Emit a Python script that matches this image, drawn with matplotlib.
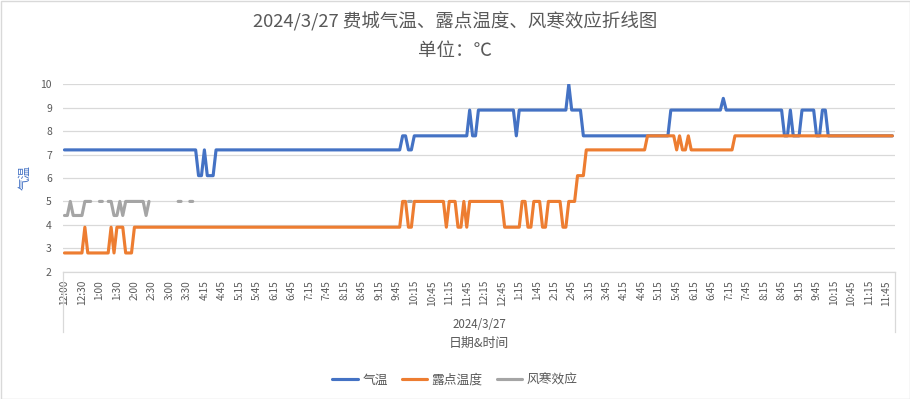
import numpy as np
import matplotlib
matplotlib.use("Agg")
import matplotlib.pyplot as plt
from matplotlib.lines import Line2D
from matplotlib.patches import Rectangle

plt.rcParams['font.family'] = ['Noto Sans CJK SC', 'DejaVu Sans']

# ---- data (value in degC, number of consecutive 5-min readings); None = no value
temp_runs = [(7.2, 46), (6.1, 2), (7.2, 1), (6.1, 3), (7.2, 64), (7.8, 2), (7.2, 2),
             (7.8, 19), (8.9, 1), (7.8, 2), (8.9, 13), (7.8, 1), (8.9, 17), (10.0, 1),
             (8.9, 4), (7.8, 30), (8.9, 18), (9.4, 1), (8.9, 20), (7.8, 2), (8.9, 1),
             (7.8, 3), (8.9, 5), (7.8, 2), (8.9, 2), (7.8, 23)]
dew_runs = [(2.8, 7), (3.9, 1), (2.8, 8), (3.9, 1), (2.8, 1), (3.9, 3), (2.8, 3),
            (3.9, 92), (5.0, 2), (3.9, 2), (5.0, 11), (3.9, 1), (5.0, 3), (3.9, 2),
            (5.0, 1), (3.9, 1), (5.0, 12), (3.9, 6), (5.0, 2), (3.9, 2), (5.0, 3),
            (3.9, 2), (5.0, 5), (3.9, 2), (5.0, 3), (6.1, 3), (7.2, 21), (7.8, 10),
            (7.2, 1), (7.8, 1), (7.2, 2), (7.8, 1), (7.2, 15), (7.8, 55)]
chill_runs = [(4.4, 2), (5.0, 1), (4.4, 4), (5.0, 3), (None, 2), (5.0, 2), (None, 1),
              (5.0, 2), (4.4, 2), (5.0, 1), (4.4, 1), (5.0, 7), (4.4, 1), (5.0, 1),
              (None, 9), (5.0, 2), (None, 2), (5.0, 2), (None, 73), (5.0, 2), (None, 165)]

tick_labels = ["12:00", "12:30", "1:00", "1:30", "2:00", "2:30", "3:00", "3:30",
               "4:15", "4:45", "5:15", "5:45", "6:15", "6:45", "7:15", "7:45",
               "8:15", "8:45", "9:15", "9:45", "10:15", "10:45", "11:15", "11:45",
               "12:15", "12:45", "1:15", "1:45", "2:15", "2:45", "3:15", "3:45",
               "4:15", "4:45", "5:15", "5:45", "6:15", "6:45", "7:15", "7:45",
               "8:15", "8:45", "9:15", "9:45", "10:15", "10:45", "11:15", "11:45"]
date_label = "2024/3/27"
series_names = ["气温", "露点温度", "风寒效应"]


def expand(runs):
    out = []
    for v, n in runs:
        out += [np.nan if v is None else v] * n
    return np.array(out, dtype=float)


temp = expand(temp_runs)
dew = expand(dew_runs)
chill = expand(chill_runs)
n = len(temp)
x = np.arange(n)

W, H = 910, 399
fig = plt.figure(figsize=(W / 100, H / 100), dpi=100)
fig.patch.set_facecolor("white")

L, R, T, B = 63, 895, 84.3, 271.7
ax = fig.add_axes([L / W, (H - B) / H, (R - L) / W, (B - T) / H])

grey_txt = "#595959"
grid_c = "#D9D9D9"
colors = ["#4472C4", "#ED7D31", "#A5A5A5"]

for y, c, name in zip([temp, dew, chill], colors, series_names):
    ax.plot(x, y, color=c, lw=2.25, solid_capstyle="round", solid_joinstyle="round", label=name)

ax.set_xlim(-0.5, 284.9)
ax.set_ylim(2, 10)
ax.set_yticks(range(2, 11))
ax.grid(axis="y", color=grid_c, lw=0.9)
ax.set_axisbelow(True)
for s in ["top", "left", "right"]:
    ax.spines[s].set_visible(False)
ax.spines["bottom"].set_color(grid_c)
ax.spines["bottom"].set_linewidth(0.9)

ax.set_xticks(np.arange(0, 6 * len(tick_labels), 6))
ax.set_xticklabels(tick_labels, rotation=90, fontsize=7.3, color=grey_txt)
ax.tick_params(axis="x", length=0, pad=6)
ax.tick_params(axis="y", length=0, pad=8, labelsize=7.5, labelcolor=grey_txt)

# category group box lines
for xp in (L, R):
    fig.add_artist(Line2D([xp / W, xp / W], [(H - B) / H, (H - 332) / H], color=grid_c, lw=0.9))

fig.text(479 / W, 1 - 325 / H, date_label, ha="center", va="center", fontsize=8.3, color=grey_txt)
fig.text(479 / W, 1 - 343 / H, "日期&时间", ha="center", va="center", fontsize=9.3, color=grey_txt)
fig.text(25 / W, 1 - 178 / H, "气温", ha="center", va="center", rotation=90, fontsize=9, color="#4472C4")

fig.text(0.5, 1 - 22 / H, "2024/3/27 费城气温、露点温度、风寒效应折线图", ha="center", va="center",
         fontsize=13.3, color=grey_txt)
fig.text(0.5, 1 - 51 / H, "单位：℃", ha="center", va="center", fontsize=13.3, color=grey_txt)

leg = fig.legend(loc="center", bbox_to_anchor=(0.5, 1 - 380 / H), ncol=3, frameon=False,
                 fontsize=9.2, handlelength=2.0, handletextpad=0.35, columnspacing=1.1)
for t in leg.get_texts():
    t.set_color(grey_txt)

fig.add_artist(Rectangle((0.5 / W, 0.5 / H), 1 - 1 / W, 1 - 1 / H, transform=fig.transFigure,
                         fill=False, edgecolor=grid_c, lw=1))

fig.savefig("out.png", dpi=100, facecolor="white")
